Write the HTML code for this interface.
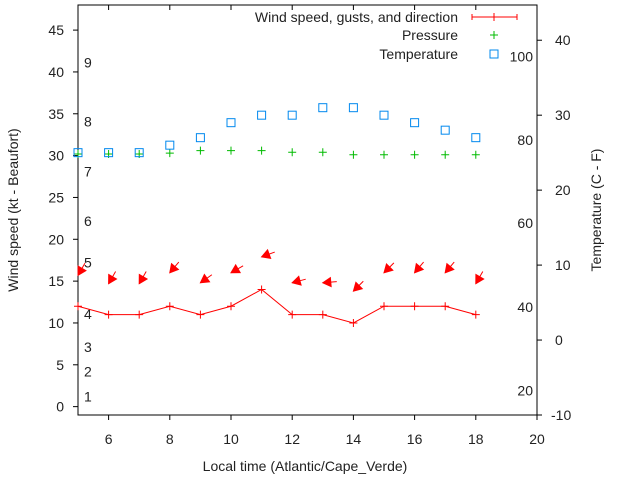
<!DOCTYPE html>
<html><head><meta charset="utf-8"><style>
body{margin:0;background:#fff}
svg{display:block;font-family:"Liberation Sans",sans-serif;font-size:14px}
</style></head><body>
<svg id="chart" width="640" height="480" viewBox="0 0 640 480">
<rect width="640" height="480" fill="#fff"/>
<g id="axes"></g>
<g id="marks"></g>
<text transform="translate(18,210) rotate(-90)" text-anchor="middle" fill="#222">Wind speed (kt - Beaufort)</text>
<text transform="translate(601,210) rotate(-90)" text-anchor="middle" fill="#222">Temperature (C - F)</text>
<text x="305" y="471" text-anchor="middle" fill="#222">Local time (Atlantic/Cape_Verde)</text>
<g>
<text x="458" y="22" text-anchor="end" fill="#222">Wind speed, gusts, and direction</text>
<text x="458" y="40" text-anchor="end" fill="#222">Pressure</text>
<text x="458" y="59" text-anchor="end" fill="#222">Temperature</text>
<path d="M472 17H517M472 14V20M517 14V20M494 13V21" stroke="#f00"/>
<path d="M490 35H498M494 31V39" stroke="#0b0"/>
<rect x="490" y="50" width="8" height="8" fill="none" stroke="#08e"/>
</g>
</svg>
<script>
const hours=[5,6,7,8,9,10,11,12,13,14,15,16,17,18];
const windSpeed=[12,11,11,12,11,12,14,11,11,10,12,12,12,11];
const gusts=[15.7,14.7,14.7,16,14.8,16,17.9,14.8,14.8,13.8,16,16,16,14.7];
const windDir=[30,30,30,40,55,60,70,75,85,45,45,40,40,30];
const pressure=[30.2,30.2,30.2,30.3,30.6,30.6,30.6,30.4,30.4,30.1,30.1,30.1,30.1,30.1];
const temperature=[25,25,25,26,27,29,30,30,31,31,30,29,28,27];
const xTicks=[6,8,10,12,14,16,18,20];
const yTicks=[0,5,10,15,20,25,30,35,40,45];
const y2Ticks=[-10,0,10,20,30,40];
const beaufort=[[1,1.2],[2,4.2],[3,7.1],[4,11.1],[5,17.2],[6,22.2],[7,28.1],[8,34.1],[9,41.1]];
const fahr=[[20,-6.7],[40,4.4],[60,15.6],[80,26.7],[100,37.8]];
const L=78,R=537,T=5,B=415;
const X=v=>L+(v-5)/15*(R-L);
const Y=v=>B-(v+1)/49*(B-T);
const Y2=v=>B-(v+10)/54.7*(B-T);
const NS="http://www.w3.org/2000/svg";
function mk(tag,attrs,parent,txt){const e=document.createElementNS(NS,tag);for(const k in attrs)e.setAttribute(k,attrs[k]);if(txt!==undefined)e.textContent=txt;parent.appendChild(e);return e;}
const ax=document.getElementById('axes'),mg=document.getElementById('marks');
let fr=mk('rect',{x:L,y:T,width:R-L,height:B-T,fill:'none',stroke:'#000'},ax);


xTicks.forEach(t=>{const x=X(t);
 mk('path',{d:`M${x} ${B}V${B+5}M${x} ${T}V${T+5}`,stroke:'#000'},ax);
 const e=mk('text',{x:x,y:B+29,'text-anchor':'middle',fill:'#222'},ax,t);
 
 });
yTicks.forEach(t=>{const y=Y(t);
 mk('path',{d:`M${L-5} ${y}H${L}`,stroke:'#000'},ax);
 const e=mk('text',{x:L-14,y:y+5,'text-anchor':'end',fill:'#222'},ax,t);
 
 });
y2Ticks.forEach(t=>{const y=Y2(t);
 mk('path',{d:`M${R} ${y}H${R+5}`,stroke:'#000'},ax);
 const e=mk('text',{x:t<0?R+14:R+18,y:y+5,'text-anchor':'start',fill:'#222'},ax,t);
 
 });
beaufort.forEach(([n,v])=>{const e=mk('text',{x:84,y:Y(v)+5,fill:'#222'},ax,n);
 
 });
fahr.forEach(([n,v])=>{const e=mk('text',{x:533,y:Y2(v)+5,'text-anchor':'end',fill:'#222'},ax,n);
 
 });
const pts=hours.map((h,i)=>`${X(h)},${Y(windSpeed[i])}`).join(' ');
const ln=mk('polyline',{points:pts,fill:'none',stroke:'#f00'},mg);


hours.forEach((h,i)=>{const x=X(h),y=Y(windSpeed[i]);
 const p=mk('path',{d:`M${x-4} ${y}H${x+4}M${x} ${y-4}V${y+4}`,stroke:'#f00'},mg);
 
 });
hours.forEach((h,i)=>{const x=X(h),y=Y(gusts[i]);const a=windDir[i]*Math.PI/180;
 const dx=Math.sin(a),dy=-Math.cos(a);const len=14;
 const tx=x+dx*len,ty=y+dy*len;
 const px=-dy,py=dx;const hl=8,hw=4.5;
 const bx=x+dx*hl,by=y+dy*hl;
 const g=mk('g',{},mg);
 
 
 mk('line',{x1:x,y1:y,x2:tx,y2:ty,stroke:'#f00'},g);
 mk('polygon',{points:`${x},${y} ${bx+px*hw},${by+py*hw} ${bx-px*hw},${by-py*hw}`,fill:'#f00',stroke:'#f00'},g);});
hours.forEach((h,i)=>{const x=X(h),y=Y(pressure[i]);
 const p=mk('path',{d:`M${x-4} ${y}H${x+4}M${x} ${y-4}V${y+4}`,stroke:'#0b0'},mg);
 
 });
hours.forEach((h,i)=>{const x=X(h),y=Y2(temperature[i]);
 const r=mk('rect',{x:x-4,y:y-4,width:8,height:8,fill:'none',stroke:'#08e'},mg);
 
 });
</script>
</body></html>
